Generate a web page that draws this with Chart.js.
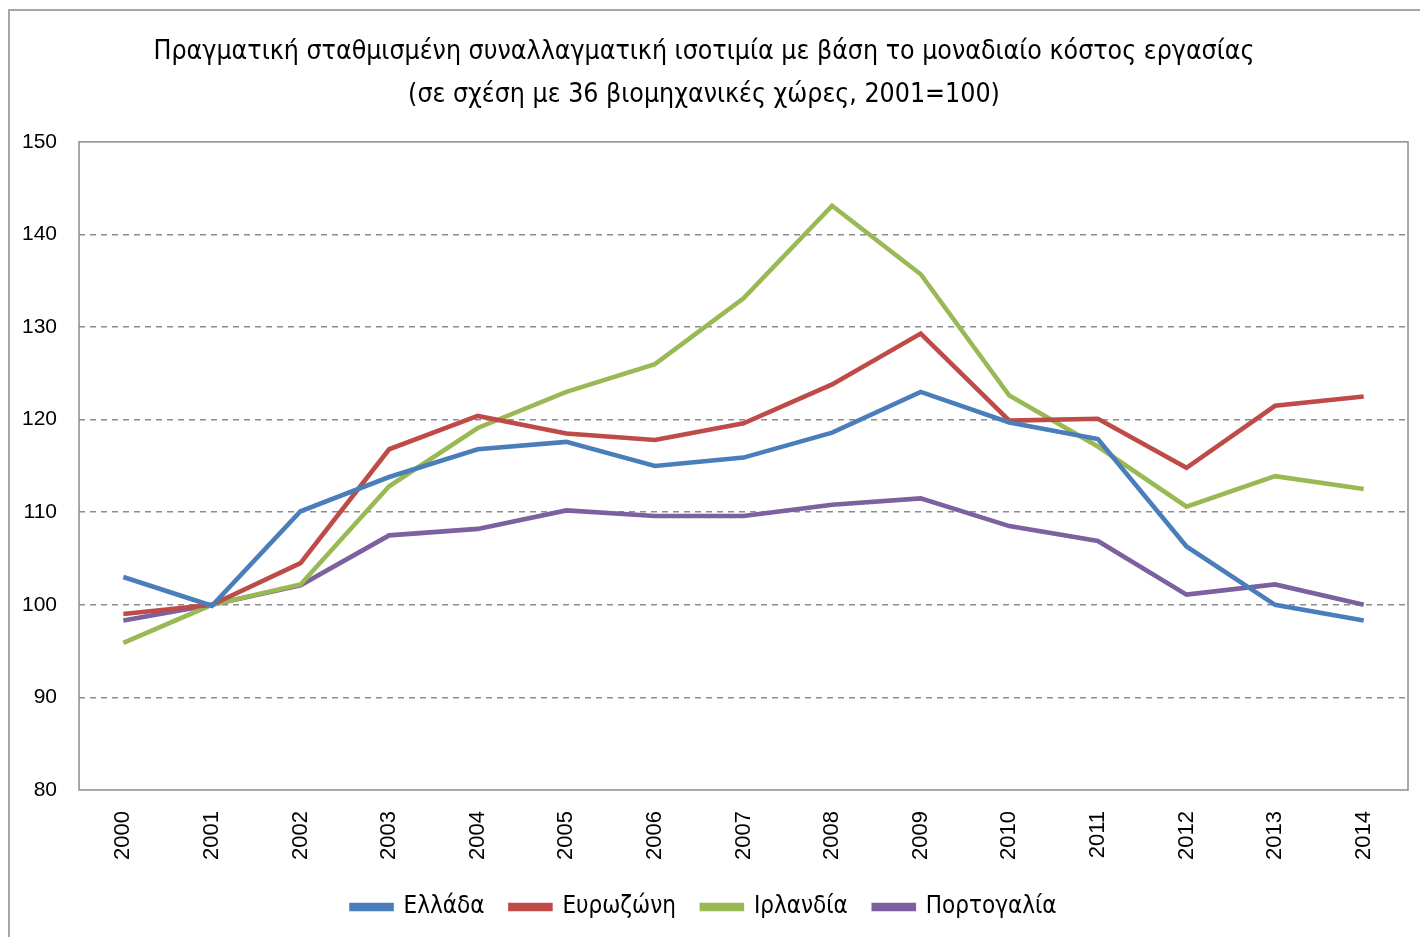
<!DOCTYPE html>
<html>
<head>
<meta charset="utf-8">
<script src="https://cdn.jsdelivr.net/npm/chart.js@4"></script>
<style>
  html, body { margin: 0; padding: 0; background: #fff; }
  #wrap { position: relative; width: 1420px; height: 937px; }
  #frame { position: absolute; left: 8px; top: 9px; width: 1420px; height: 940px;
           border-left: 2px solid #a6a6a6; border-top: 2px solid #a6a6a6; }
  canvas { position: absolute; left: 0; top: 0; }
</style>
</head>
<body>
<div id="wrap">
  <div id="frame"></div>
  <canvas id="chart" width="1420" height="937"></canvas>
</div>
<script>
// === Data ===
const years = ['2000', '2001', '2002', '2003', '2004', '2005', '2006', '2007',
               '2008', '2009', '2010', '2011', '2012', '2013', '2014'];
const greece   = [103.0, 99.9, 110.1, 113.8, 116.8, 117.6, 115.0, 115.9, 118.6, 123.0, 119.7, 117.9, 106.3, 100.0, 98.3];
const eurozone = [99.0, 100.0, 104.5, 116.8, 120.4, 118.5, 117.8, 119.6, 123.8, 129.3, 119.9, 120.1, 114.8, 121.5, 122.5];
const ireland  = [95.9, 100.0, 102.2, 112.8, 119.1, 123.0, 126.0, 133.1, 143.1, 135.7, 122.6, 117.1, 110.6, 113.9, 112.5];
const portugal = [98.3, 100.0, 102.1, 107.5, 108.2, 110.2, 109.6, 109.6, 110.8, 111.5, 108.5, 106.9, 101.1, 102.2, 100.0];
const seriesNames = ['Ελλάδα', 'Ευρωζώνη', 'Ιρλανδία', 'Πορτογαλία'];
const titleLines = ['Πραγματική σταθμισμένη συναλλαγματική ισοτιμία με βάση το μοναδιαίο κόστος εργασίας',
                    '(σε σχέση με 36 βιομηχανικές χώρες, 2001=100)'];

const colors = ['#4a7ebb', '#be4b48', '#98b954', '#7d60a0'];

function ds(label, data, color) {
  return {
    label: label,
    data: data,
    borderColor: color,
    backgroundColor: color,
    borderWidth: 4.6,
    pointRadius: 0,
    tension: 0,
    fill: false
  };
}

// === Plot border ===
const plotBorder = {
  id: 'plotBorder',
  afterDatasetsDraw(chart) {
    const a = chart.chartArea;
    const ctx = chart.ctx;
    ctx.save();
    ctx.strokeStyle = '#8c8c8c';
    ctx.lineWidth = 1.5;
    ctx.strokeRect(a.left, a.top, a.right - a.left, a.bottom - a.top);
    ctx.restore();
  }
};

const narrow = '"Liberation Sans Narrow", "DejaVu Sans Condensed", sans-serif';

new Chart(document.getElementById('chart'), {
  type: 'line',
  data: {
    labels: years,
    datasets: [
      ds(seriesNames[0], greece, colors[0]),
      ds(seriesNames[1], eurozone, colors[1]),
      ds(seriesNames[2], ireland, colors[2]),
      ds(seriesNames[3], portugal, colors[3])
    ]
  },
  options: {
    responsive: false,
    animation: false,
    layout: { padding: { left: 0, right: 12, top: 0, bottom: 8 } },
    plugins: {
      title: {
        display: true,
        text: titleLines,
        color: '#000',
        font: { family: narrow, size: 26.5, weight: 'normal', lineHeight: 1.62 },
        padding: { top: 31, bottom: 25 }
      },
      legend: {
        position: 'bottom',
        labels: {
          color: '#000',
          boxWidth: 40,
          boxHeight: 4,
          padding: 26,
          font: { family: narrow, size: 24 }
        }
      },
      tooltip: { enabled: false }
    },
    scales: {
      x: {
        offset: true,
        grid: { display: false, drawTicks: false },
        border: { display: false },
        afterFit: function (s) { s.height = 79; },
        ticks: {
          color: '#000',
          minRotation: 90,
          maxRotation: 90,
          padding: 21,
          font: { family: '"Liberation Sans", Arial, sans-serif', size: 22 }
        }
      },
      y: {
        min: 80,
        max: 150,
        grid: {
          drawTicks: false,
          lineWidth: 1.5,
          color: c => (c.tick.value === 80 || c.tick.value === 150) ? 'rgba(0,0,0,0)' : '#8c8c8c'
        },
        border: { display: false, dash: [6, 5] },
        ticks: {
          stepSize: 10,
          color: '#000',
          padding: 22,
          font: { family: '"Liberation Sans", Arial, sans-serif', size: 21 }
        }
      }
    }
  },
  plugins: [plotBorder]
});
</script>
</body>
</html>
